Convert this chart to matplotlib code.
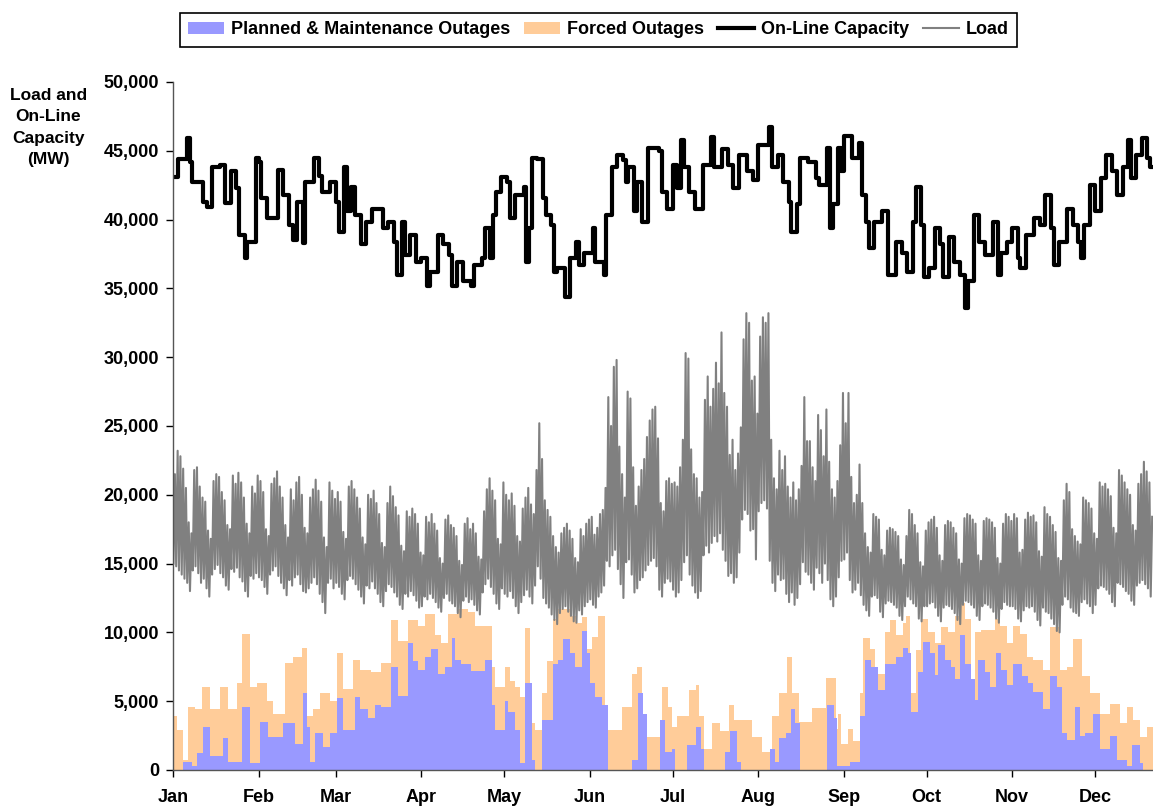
import numpy as np
import matplotlib
matplotlib.use("Agg")
import matplotlib.pyplot as plt
from matplotlib.patches import Patch
from matplotlib.lines import Line2D

plt.rcParams['font.family'] = ['Liberation Sans', 'DejaVu Sans']
plt.rcParams['font.weight'] = 'bold'

# month labels, placed at the first day of each month (day 0 = Jan 1)
months = ['Jan', 'Feb', 'Mar', 'Apr', 'May', 'Jun', 'Jul', 'Aug', 'Sep', 'Oct', 'Nov', 'Dec']
month_start = [0, 31, 59, 90, 120, 151, 181, 212, 243, 273, 304, 334]

# on-line capacity (MW), step changes
cap_day = [0, 2, 5, 6, 7, 11, 12.5, 14, 17, 19, 21, 23, 24, 26, 27, 30, 31, 32, 34, 38, 40, 42, 43.5, 45, 47, 48,
           51, 53, 54, 57, 59, 60, 62, 63, 64.5, 66, 68, 70, 72, 74, 76, 78, 80, 81, 83, 84, 86, 88, 90, 92, 93, 96,
           98, 100, 101, 103, 105, 108, 109, 112, 113, 115, 116, 117, 119, 121, 122, 124, 127, 128, 129, 130, 132,
           134, 135, 137, 138, 139, 142, 144, 146, 147, 149, 152, 153, 156, 157, 159, 161, 163, 164, 165, 167, 168,
           170, 172, 176, 177, 179, 181, 182.5, 184, 185, 187, 189, 192, 195, 196, 199, 201, 203, 205, 208, 210, 212,
           216, 217, 219, 221, 223, 224, 226, 227, 230, 233, 234, 237, 238, 239, 241, 242, 243, 246, 248.5, 249.5,
           251, 252, 254, 257, 259, 262, 264, 266, 268, 269, 271, 272, 274, 276, 278, 279, 281, 283, 285, 287, 288,
           290, 292, 294, 297, 299, 300, 302, 304, 306, 307, 309, 312, 314, 316, 318, 319, 321, 324, 326, 328, 329,
           330, 332, 334, 336, 338, 340, 342, 344, 346, 347, 349, 351, 353, 354]
cap_mw = [43100, 44400, 45900, 44200, 42700, 41300, 40900, 43800, 44000, 41200, 43500, 42300, 38900, 37200, 38400,
          44500, 44200, 41600, 40100, 43600, 41800, 39600, 38500, 41300, 38300, 42700, 44500, 43200, 42000, 42700,
          41300, 39100, 43800, 40600, 42400, 40300, 38200, 39800, 40800, 40800, 39400, 39800, 38400, 36000, 39800,
          37400, 38900, 36900, 37200, 35200, 36200, 38900, 38200, 37400, 35200, 36900, 35500, 35200, 36700, 37200,
          39400, 37200, 40300, 42000, 43100, 42700, 40100, 41800, 42400, 36900, 39400, 44500, 44400, 41600, 40300,
          39600, 36200, 36500, 34400, 37200, 38400, 36700, 37600, 39400, 36900, 36000, 40300, 43800, 44700, 44300,
          42700, 43800, 40600, 42700, 39800, 45200, 45000, 42000, 40800, 44000, 42300, 45800, 43800, 42000, 40800,
          44000, 46000, 43800, 45100, 44000, 42300, 44700, 43500, 42900, 45400, 46700, 43800, 44700, 42700, 41300,
          39100, 41100, 44500, 44200, 43000, 42500, 45200, 39400, 41100, 45200, 43500, 46100, 44500, 45600, 41800,
          39800, 37900, 39800, 40600, 36000, 38400, 37600, 36200, 39800, 42400, 39600, 35800, 36500, 39400, 38200,
          35800, 38700, 36900, 36000, 33600, 35500, 40300, 38400, 37400, 39800, 36000, 37600, 38400, 39400, 37200,
          36500, 38900, 40100, 39600, 41800, 39400, 36700, 38400, 40800, 39600, 38400, 37200, 39600, 42500, 40600,
          43000, 44700, 43500, 41800, 43800, 45800, 43000, 44700, 45900, 44500, 43800]

# daily load (thousand MW): overnight minimum and afternoon peak for each day
load_min = [
    # Jan
    15.0, 14.8, 14.5, 14.2, 13.9, 13.6, 13.0, 14.5, 14.8, 14.3, 13.6, 13.9, 13.2, 12.6, 14.2, 14.6, 14.9, 14.3,
    14.0, 13.4, 13.1, 14.6, 14.4, 14.7, 14.0, 13.7, 13.0, 12.6, 14.1, 13.9, 14.3,
    # Feb
    14.0, 13.8, 13.3, 12.8, 14.2, 14.5, 14.8, 14.1, 13.6, 13.2, 12.7, 13.8, 13.4, 14.0, 14.2, 13.5, 13.0, 12.9,
    13.2, 13.6, 14.0, 13.5, 12.8, 12.2, 11.4, 13.6, 13.9, 13.2,
    # Mar
    13.6, 13.3, 12.8, 12.4, 13.8, 14.1, 13.9, 13.5, 13.1, 12.6, 12.1, 13.4, 13.2, 13.7, 13.2, 12.8, 12.2, 11.9,
    13.0, 13.5, 13.3, 12.9, 12.6, 12.0, 11.7, 12.8, 12.6, 13.0, 12.7, 12.3, 11.8,
    # Apr
    11.9, 12.6, 12.4, 12.8, 12.5, 12.2, 11.8, 11.5, 12.5, 12.8, 12.3, 12.1, 11.9, 11.4, 11.1, 12.3, 12.6, 12.2,
    12.4, 12.0, 11.6, 11.3, 12.9, 13.5, 13.9, 13.3, 12.8, 12.1, 11.7, 13.2,
    # May
    12.8, 12.6, 13.0, 12.5, 11.9, 11.4, 12.2, 12.7, 13.1, 12.6, 12.1, 13.4, 14.8, 13.9, 12.5, 12.1, 11.8, 11.3,
    10.9, 10.6, 11.4, 11.7, 11.9, 11.5, 11.2, 10.8, 10.7, 11.6, 11.3, 11.9, 12.2,
    # Jun
    12.4, 12.0, 11.8, 12.6, 12.9, 13.4, 15.2, 14.8, 15.6, 16.0, 14.6, 13.5, 12.5, 15.1, 15.3, 14.2, 12.9, 13.2,
    13.8, 14.0, 14.5, 14.9, 15.2, 15.4, 14.8, 13.1, 12.6, 13.6, 13.9, 13.7,
    # Jul
    13.1, 12.6, 12.9, 13.8, 15.1, 15.6, 14.2, 13.4, 12.9, 12.5, 13.0, 15.6, 16.3, 15.8, 16.5, 17.0, 16.6, 17.2,
    16.0, 15.2, 14.1, 14.3, 13.6, 14.0, 15.8, 18.2, 18.9, 18.6, 17.4, 17.5, 15.3,
    # Aug
    18.8, 19.4, 19.6, 19.0, 15.2, 13.6, 13.0, 14.2, 13.8, 13.9, 12.8, 12.2, 12.9, 12.0, 12.5, 13.5, 15.1, 14.4,
    14.2, 13.6, 13.1, 14.7, 14.3, 13.6, 15.0, 13.8, 12.4, 11.9, 12.6, 14.0, 15.2,
    # Sep
    15.3, 15.8, 13.8, 12.9, 13.1, 13.6, 12.7, 12.0, 11.6, 11.2, 12.6, 12.7, 12.5, 11.5, 11.1, 12.1, 12.3, 12.2,
    12.0, 11.8, 11.2, 10.9, 11.9, 12.6, 12.4, 12.1, 11.9, 11.0, 10.8, 11.9,
    # Oct
    11.9, 12.1, 12.2, 11.8, 11.2, 10.8, 11.8, 12.0, 11.9, 11.7, 11.4, 10.9, 10.6, 12.0, 12.3, 12.2, 12.0, 11.8,
    11.2, 10.9, 11.9, 12.1, 12.0, 11.8, 11.5, 11.0, 10.7, 11.7, 12.2, 12.0, 11.9,
    # Nov
    11.9, 11.7, 11.0, 10.8, 11.6, 11.9, 11.8, 11.9, 11.5, 10.9, 10.5, 11.8, 11.5, 11.4, 11.0, 10.6, 10.1, 10.0,
    12.0, 12.6, 12.4, 11.8, 11.5, 11.4, 11.2, 12.2, 12.4, 12.1, 11.9, 11.4,
    # Dec (to the 21st)
    12.0, 13.2, 13.4, 13.3, 13.1, 12.8, 12.2, 11.9, 13.6, 13.5, 13.3, 13.0, 12.8, 12.3, 12.0, 13.4, 13.6, 13.8,
    13.5, 13.2, 12.6,
]
load_max = [
    # Jan
    21.5, 23.2, 22.8, 21.9, 20.5, 18.0, 17.2, 21.8, 22.0, 20.6, 19.8, 19.5, 17.4, 16.8, 21.0, 21.5, 21.3, 20.2,
    19.6, 17.8, 17.5, 21.4, 20.8, 21.6, 20.9, 19.8, 17.9, 17.2, 20.6, 20.1, 21.4,
    # Feb
    21.0, 20.2, 17.5, 17.0, 20.8, 21.2, 21.7, 20.6, 19.8, 17.8, 16.9, 20.4, 19.6, 20.9, 21.3, 20.0, 17.6, 17.2,
    19.8, 20.4, 21.1, 20.3, 19.5, 16.9, 16.2, 20.9, 20.3, 19.7,
    # Mar
    20.2, 19.5, 17.3, 16.8, 20.6, 21.0, 20.4, 19.8, 19.0, 16.9, 16.4, 20.0, 19.7, 20.3, 19.4, 18.6, 16.5, 16.2,
    19.4, 20.6, 19.9, 19.1, 18.5, 16.3, 15.9, 18.8, 18.4, 19.0, 18.6, 17.9, 15.8,
    # Apr
    15.6, 18.4, 18.0, 18.6, 17.9, 17.4, 15.4, 15.0, 18.2, 18.5, 17.8, 17.6, 17.0, 15.2, 14.9, 17.9, 18.3, 17.5,
    17.9, 17.2, 15.5, 15.3, 18.8, 20.4, 21.2, 20.3, 19.6, 16.8, 16.4, 20.9,
    # May
    20.0, 19.6, 20.1, 19.2, 17.0, 16.6, 19.0, 19.8, 20.5, 19.3, 18.6, 21.8, 25.2, 22.6, 19.6, 18.9, 18.4, 17.0,
    16.2, 15.8, 17.2, 17.6, 17.9, 17.4, 16.8, 15.4, 15.1, 17.5, 17.0, 17.9, 18.2,
    # Jun
    18.4, 17.1, 17.6, 18.6, 18.9, 20.5, 27.1, 25.0, 29.3, 29.8, 23.5, 21.5, 19.8, 27.5, 27.0, 22.0, 19.2, 20.6,
    21.8, 22.6, 24.2, 25.4, 26.2, 26.4, 24.1, 19.4, 18.8, 21.0, 21.2, 20.8,
    # Jul
    20.9, 20.6, 22.0, 24.0, 30.3, 29.9, 23.3, 21.5, 21.2, 19.8, 20.2, 26.9, 28.6, 26.4, 27.7, 29.6, 28.1, 31.8,
    27.4, 26.4, 22.9, 24.0, 21.8, 23.0, 24.9, 31.3, 33.2, 32.5, 28.3, 28.6, 25.9,
    # Aug
    31.5, 32.9, 32.5, 33.2, 24.0, 21.2, 20.4, 23.2, 21.8, 22.8, 20.6, 19.8, 20.9, 19.6, 20.4, 22.1, 27.1, 23.9,
    23.9, 22.0, 21.0, 25.8, 24.7, 22.8, 26.2, 22.4, 20.4, 19.8, 21.0, 23.6, 27.4,
    # Sep
    25.2, 27.4, 21.3, 19.4, 20.0, 22.2, 19.4, 17.2, 16.2, 15.8, 18.6, 18.4, 18.2, 16.0, 15.6, 17.4, 17.6, 17.5,
    17.3, 17.0, 15.3, 14.9, 17.0, 18.9, 18.6, 17.8, 17.2, 15.1, 14.8, 17.4,
    # Oct
    18.0, 18.2, 18.4, 17.6, 15.6, 15.2, 17.8, 18.1, 18.0, 17.6, 17.2, 15.3, 15.0, 18.3, 18.6, 18.5, 18.2, 17.9,
    15.6, 15.2, 18.1, 18.3, 18.2, 18.0, 17.6, 15.4, 15.0, 17.9, 18.6, 18.4, 18.1,
    # Nov
    18.6, 18.3, 15.8, 16.0, 18.2, 18.7, 18.4, 18.5, 18.0, 15.9, 15.5, 19.1, 18.6, 18.4, 17.8, 17.3, 15.4, 15.2,
    19.6, 20.8, 20.2, 17.5, 17.0, 16.6, 16.4, 19.8, 19.6, 19.4, 19.0, 17.2,
    # Dec (to the 21st)
    16.8, 20.9, 20.6, 20.8, 20.4, 19.9, 17.6, 17.2, 21.8, 21.4, 20.9, 20.4, 20.0, 17.8, 17.4, 20.8, 21.5, 22.4,
    21.7, 20.9, 18.4,
]

# planned & maintenance outages (MW), step changes
plan_day = [0, 3.7, 7, 8.6, 11, 13.4, 18.2, 20, 24.9, 27.9, 31.5, 34.5, 40, 44.2, 47.2, 48.4, 49.6, 51.4, 54.5,
            56.9, 59.3, 61.6, 65.8, 67.7, 70.7, 73.1, 75.5, 79.1, 81.5, 85.2, 87, 88.8, 91.2, 93.6, 96, 98.4, 100.9,
            102.1, 104.5, 108.1, 113, 115.4, 116.6, 120.3, 121.5, 123.9, 125.7, 127.5, 130, 131.2, 133.6, 137.8,
            139.6, 141.4, 143.9, 145.7, 148.1, 149.9, 151.1, 152.9, 155.3, 157.7, 166.2, 168.6, 170.4, 171.6,
            176.5, 178.3, 180.8, 182, 186.2, 189.3, 191.1, 192.3, 200.1, 201.9, 204.4, 205.6, 216.4, 218.2, 219.4,
            221.9, 223.7, 225.5, 227.3, 237, 239.4, 240.6, 245.1, 248.8, 250.6, 253, 255.4, 257.8, 262, 264.5,
            266.3, 267.5, 269.9, 271.7, 274.1, 275.9, 277.1, 279.5, 282, 283.2, 285, 286.8, 289.2, 290.4, 291.6,
            294, 295.9, 298.3, 300.1, 302, 304.4, 307.4, 309.9, 311.7, 315.3, 317.7, 320.1, 321.9, 323.8, 326.8,
            328.6, 330.4, 333.4, 335.8, 339.5, 341.9, 345.5, 347.3, 350.3, 351.5]
plan_mw = [0, 600, 300, 1200, 3100, 1000, 2300, 600, 4600, 500, 3500, 2400, 3400, 1900, 5600, 3100, 600, 2700,
           1700, 2700, 5200, 2900, 5300, 4400, 3800, 4700, 4600, 7500, 5400, 9200, 7900, 7300, 8200, 8800, 7000,
           7500, 9600, 8000, 7700, 7200, 8000, 4700, 2900, 5000, 4200, 2900, 500, 6300, 700, 0, 3600, 7700, 8000,
           9500, 8500, 7500, 10100, 8500, 6300, 5300, 4700, 0, 700, 5600, 4100, 0, 3600, 1300, 1500, 0, 1800, 3100,
           1500, 0, 1300, 2800, 600, 0, 1500, 600, 2300, 2700, 4400, 3400, 0, 4700, 3800, 300, 600, 3900, 8000,
           7500, 5800, 7700, 8200, 8900, 8500, 4200, 7100, 9300, 8500, 6900, 9100, 8000, 7500, 6600, 9800, 7700,
           6600, 5100, 8000, 7100, 6000, 8500, 7300, 6200, 7700, 6800, 6300, 5700, 4400, 6800, 6000, 2700, 2200,
           4600, 2500, 2700, 4100, 1500, 2500, 700, 300, 1800, 500, 0]

# total outages, planned plus forced (MW), step changes
total_day = [0, 1.3, 3.7, 5.6, 8, 10.4, 13.4, 17, 20, 23.1, 24.9, 27.9, 30.3, 33.9, 36.4, 40.6, 43.6, 46.6, 48.4,
             50.8, 53.3, 56.9, 59.3, 61.6, 65.2, 67.7, 71.9, 75.5, 79.1, 81.5, 85.2, 88.8, 91.2, 94.8, 97.2, 99.7,
             103.3, 106.9, 109.3, 115.4, 116.6, 120.3, 122.1, 123.9, 125.7, 127.5, 129.4, 131.2, 133.6, 135.4,
             137.8, 139.6, 143.9, 146.3, 148.1, 149.9, 151.7, 154.1, 156.5, 157.7, 162.6, 166.2, 168, 169.8, 177.1,
             179.5, 180.8, 182.6, 186.8, 189.3, 190.5, 192.3, 195.3, 198.3, 201.3, 203.1, 209.8, 213.4, 217,
             219.4, 222.5, 224.3, 226.7, 231.5, 236.4, 240, 240.9, 242.1, 244.5, 246.3, 248.8, 250, 252.4, 254.2,
             257.8, 259.6, 262, 264.5, 265.7, 266.9, 269.3, 271.1, 273.5, 275.9, 278.3, 280.8, 283.2, 285, 286.8,
             289.2, 290.4, 292.8, 297.7, 299.6, 302, 304.4, 306.8, 309.3, 311.7, 315.3, 317.7, 321.3, 323.8, 326.2,
             329.2, 332.2, 335.8, 339.5, 343.1, 345.5, 347.9, 350.3, 352.7]
total_mw = [3900, 2900, 700, 4600, 4400, 6000, 4400, 6000, 4400, 6300, 9900, 6000, 6300, 5000, 4100, 7800, 8200,
            8900, 3900, 4400, 5600, 5000, 8500, 5900, 8000, 7300, 7100, 7800, 10900, 9400, 10900, 10500, 11300,
            9800, 9200, 11300, 11700, 11500, 10500, 7500, 6000, 7500, 6500, 6000, 5300, 10300, 3400, 2900, 5600,
            7900, 11000, 11700, 11200, 10700, 11100, 8800, 9700, 11200, 3100, 2900, 4600, 7000, 7500, 2400, 6000,
            4600, 3100, 3900, 5800, 6200, 3900, 1500, 3400, 2800, 4700, 3600, 2400, 1300, 3900, 5600, 8200, 5600,
            3500, 4500, 6700, 3000, 4100, 1900, 3000, 2100, 5600, 9600, 8800, 7000, 10000, 10900, 9800, 10700,
            11200, 5600, 8700, 11000, 10000, 9200, 10400, 10000, 11200, 12100, 11000, 5000, 10000, 10200, 11000,
            10500, 9200, 10500, 9900, 8200, 8000, 7300, 10400, 7300, 7500, 9500, 6800, 5600, 4100, 4800, 3400,
            4600, 3600, 2400, 3100]

end_day = 355
blue = '#9999FF'
peach = '#FFCC99'

fig = plt.figure(figsize=(11.53, 8.10), dpi=100)
ax = fig.add_axes([0.150, 0.0494, 0.85, 0.8494])

# outages: total first (peach), planned on top (blue) -> stacked look
tx = np.append(total_day, end_day)
ty = np.append(total_mw, total_mw[-1])
ax.fill_between(tx, 0, ty, step='post', color=peach, linewidth=0)
px = np.append(plan_day, end_day)
py = np.append(plan_mw, plan_mw[-1])
ax.fill_between(px, 0, py, step='post', color=blue, linewidth=0)

# load: overnight low then afternoon peak for each day
days = np.arange(len(load_min))
lx = np.ravel(np.column_stack([days + 0.17, days + 0.70]))
ly = np.ravel(np.column_stack([load_min, load_max])) * 1000
ax.plot(lx, ly, color='#808080', linewidth=1.5)

# on-line capacity
ax.plot(np.append(cap_day, end_day), np.append(cap_mw, cap_mw[-1]), drawstyle='steps-post',
        color='black', linewidth=3.0)

ax.set_xlim(0, end_day)
ax.set_ylim(0, 50000)
ax.set_yticks(np.arange(0, 50001, 5000))
ax.set_yticklabels(['0' if v == 0 else f'{v:,}' for v in range(0, 50001, 5000)], fontsize=13, fontweight='bold')
ax.set_xticks(month_start)
ax.set_xticklabels(months, fontsize=13, fontweight='bold')
ax.tick_params(axis='both', direction='out', length=5, width=1, colors='black')
ax.tick_params(axis='x', pad=9)
ax.tick_params(axis='y', pad=5)
for s in ['top', 'right']:
    ax.spines[s].set_visible(False)
for s in ['left', 'bottom']:
    ax.spines[s].set_linewidth(1)
    ax.spines[s].set_color('#555555')

fig.text(0.042, 0.8425, 'Load and\nOn-Line\nCapacity\n(MW)', ha='center', va='center', fontsize=12.5,
         fontweight='bold', linespacing=1.55)

handles = [Patch(facecolor=blue, edgecolor='none'),
           Patch(facecolor=peach, edgecolor='none'),
           Line2D([], [], color='black', linewidth=3.0),
           Line2D([], [], color='#808080', linewidth=1.5)]
labels = ['Planned & Maintenance Outages', 'Forced Outages', 'On-Line Capacity', 'Load']
leg = fig.legend(handles, labels, loc='center', bbox_to_anchor=(0.519, 0.963), ncol=4, frameon=True,
                 fancybox=False, edgecolor='black', framealpha=1, prop={'size': 13, 'weight': 'bold'},
                 handlelength=2.0, handletextpad=0.35, columnspacing=0.8, borderpad=0.45)
leg.get_frame().set_linewidth(1.2)

fig.savefig('out.png', dpi=100)
